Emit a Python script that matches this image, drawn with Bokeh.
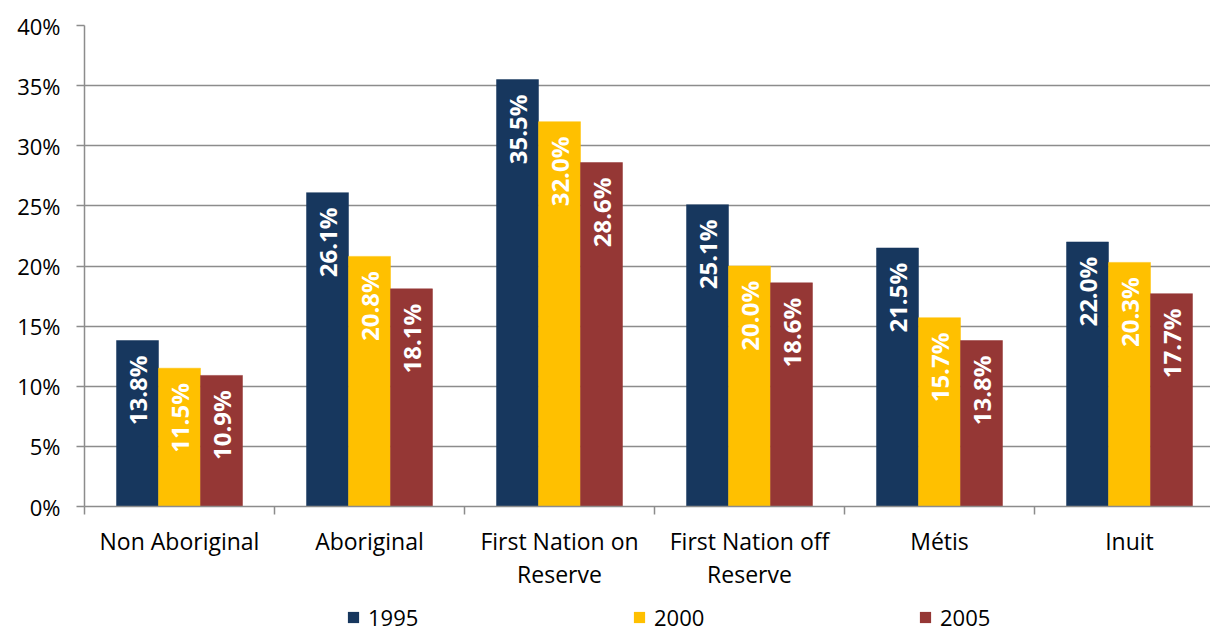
import math
from bokeh.plotting import figure
from bokeh.layouts import column
from bokeh.models import (Range1d, FixedTicker, PrintfTickFormatter, Legend, LegendItem,
                          ColumnDataSource)
from bokeh.embed import file_html
from bokeh.resources import INLINE
from bokeh.core.properties import value

categories = ["Non Aboriginal", "Aboriginal", "First Nation on\nReserve",
              "First Nation off\nReserve", "Métis", "Inuit"]
years = ["1995", "2000", "2005"]
v1995 = [13.8, 26.1, 35.5, 25.1, 21.5, 22.0]
v2000 = [11.5, 20.8, 32.0, 20.0, 15.7, 20.3]
v2005 = [10.9, 18.1, 28.6, 18.6, 13.8, 17.7]
series = [v1995, v2000, v2005]
colors = ["#17375E", "#FFC000", "#953735"]
y_ticks = [0, 5, 10, 15, 20, 25, 30, 35, 40]

FONT = "Open Sans"
GRID = "#8c8c8c"
BAR_W = 0.221
offsets = [-BAR_W, 0.0, BAR_W]

n = len(categories)
centers = [i + 0.5 for i in range(n)]

W = 1210
H = 632
LH = 32
p = figure(width=W, height=H - LH, output_backend="svg", toolbar_location=None,
           x_range=Range1d(0, (W - 84) / 190), y_range=Range1d(0, 40),
           min_border_left=84, min_border_right=0, min_border_top=25,
           min_border_bottom=H - LH - 506)
p.outline_line_color = None
p.background_fill_color = "white"
p.border_fill_color = "white"

for vals, col, off, yr in zip(series, colors, offsets, years):
    src = ColumnDataSource(dict(x=[c + off for c in centers], top=vals,
                                lbl=[f"{v:.1f}%" for v in vals]))
    p.vbar(x="x", top="top", bottom=0, width=BAR_W, source=src,
           fill_color=col, line_color=col, line_width=0.5)
    p.text(x="x", y="top", text="lbl", source=src, angle=math.pi / 2,
           text_align="right", text_baseline="middle", y_offset=15,
           text_color="white", text_font=value(FONT), text_font_style="bold",
           text_font_size="24px")

# grid
p.xgrid.visible = False
p.ygrid.ticker = FixedTicker(ticks=y_ticks)
p.ygrid.grid_line_color = GRID
p.ygrid.grid_line_width = 1.5

# y axis
ya = p.yaxis[0]
ya.ticker = FixedTicker(ticks=y_ticks)
ya.formatter = PrintfTickFormatter(format="%d%%")
ya.axis_line_color = GRID
ya.axis_line_width = 1.5
ya.major_tick_line_color = GRID
ya.major_tick_line_width = 1.5
ya.major_tick_out = 8
ya.major_tick_in = 0
ya.minor_tick_line_color = None
ya.major_label_standoff = 16
ya.major_label_text_font = FONT
ya.major_label_text_font_size = "22px"
ya.major_label_text_color = "black"

# x axis
xa = p.xaxis[0]
xa.ticker = FixedTicker(ticks=centers, minor_ticks=list(range(n + 1)))
xa.major_label_overrides = {c: lab for c, lab in zip(centers, categories)}
xa.axis_line_color = GRID
xa.axis_line_width = 1.5
xa.major_tick_line_color = None
xa.major_tick_out = 0
xa.major_tick_in = 0
xa.minor_tick_line_color = GRID
xa.minor_tick_line_width = 1.5
xa.minor_tick_out = 8
xa.minor_tick_in = 0
xa.major_label_standoff = 10
xa.major_label_text_font = FONT
xa.major_label_text_font_size = "23px"
xa.major_label_text_line_height = 1.05
xa.major_label_text_color = "black"

# legend strip
lf = figure(width=W, height=LH, output_backend="svg", toolbar_location=None,
            x_range=Range1d(0, 1), y_range=Range1d(0, 1),
            min_border_left=0, min_border_right=0, min_border_top=0, min_border_bottom=0)
lf.axis.visible = False
lf.grid.visible = False
lf.outline_line_color = None
items = []
for col, yr in zip(colors, years):
    # zero-height swatch renderer (only used for the legend key)
    r = lf.vbar(x=[0.5], top=[0], bottom=[0], width=0.01, fill_color=col, line_color=None)
    items.append(LegendItem(label=yr, renderers=[r]))
legend = Legend(items=items, orientation="horizontal", glyph_width=14, glyph_height=14,
                label_standoff=8, spacing=0, label_width=264, label_height=14,
                border_line_color=None, background_fill_alpha=0,
                padding=0, margin=0, location=(262, 0),
                label_text_font=FONT, label_text_font_size="22px",
                label_text_color="black")
lf.add_layout(legend, "center")

layout = column(p, lf, spacing=0)
open("out.html", "w").write(file_html(layout, INLINE))
